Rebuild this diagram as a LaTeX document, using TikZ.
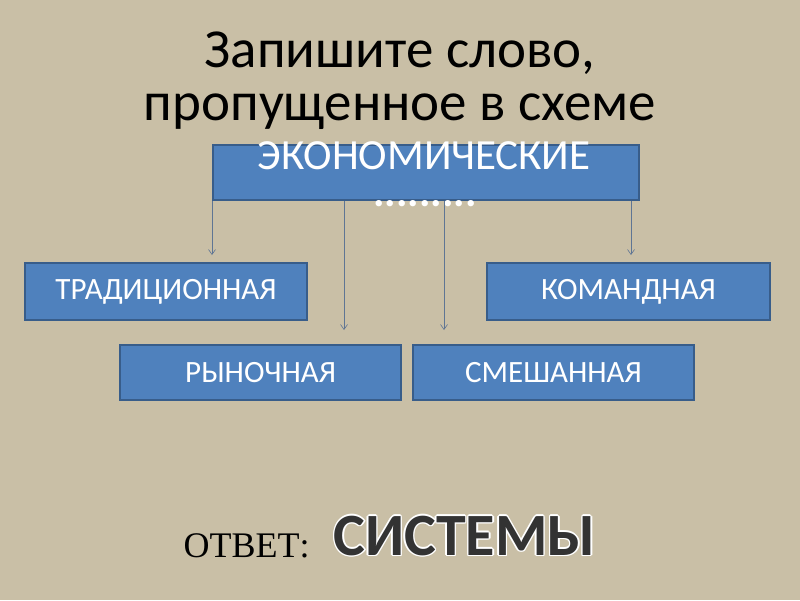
\documentclass[tikz,border=0pt]{standalone}
\usepackage{fontspec}
\setmainfont{Carlito}
\newfontfamily\serifans{Liberation Serif}
\begin{document}
\begin{tikzpicture}[x=1pt,y=-1pt,
  bx/.style={draw=boxedge,fill=boxfill,line width=1.6pt,inner sep=0pt,text=white,font=\fontsize{31}{34}\selectfont},
  arr/.style={draw=arrcol,line width=0.6pt,-{Straight Barb[length=5pt,width=7pt]}}]
\usetikzlibrary{arrows.meta}
\definecolor{bg}{HTML}{C9BFA6}
\definecolor{boxfill}{HTML}{4F81BD}
\definecolor{boxedge}{HTML}{385D8A}
\definecolor{arrcol}{HTML}{5E7594}
\fill[bg] (0,0) rectangle (800,600);
\useasboundingbox (0,0) rectangle (800,600);
\node[font=\fontsize{55}{53}\selectfont,align=center] (title) at (400,81) {Запишите слово,\\пропущенное в схеме};
\node[bx,minimum width=426pt,minimum height=55pt] (top) at (426,172.5) {};
\node[text=white,font=\fontsize{43}{46}\selectfont] (topt) at (424,156) {ЭКОНОМИЧЕСКИЕ};
\node[text=white,font=\fontsize{43}{46}\selectfont\bfseries,inner sep=0pt] (dots) at (425,204) {.........};
\node[bx,minimum width=282pt,minimum height=57pt] (trad) at (166,291.5) {ТРАДИЦИОННАЯ};
\node[bx,minimum width=283pt,minimum height=57pt] (kom) at (628.5,291.5) {КОМАНДНАЯ};
\node[bx,minimum width=281pt,minimum height=55pt] (ryn) at (260.5,372.5) {РЫНОЧНАЯ};
\node[bx,minimum width=281pt,minimum height=55pt] (sme) at (553.5,372.5) {СМЕШАННАЯ};
\coordinate (a1) at (212,255);
\coordinate (a2) at (344,330);
\coordinate (a3) at (444,330);
\coordinate (a4) at (631,255);
\draw[arr] (top.south -| a1) -- (a1);
\draw[arr] (top.south -| a2) -- (a2);
\draw[arr] (top.south -| a3) -- (a3);
\draw[arr] (top.south -| a4) -- (a4);
\node[font=\serifans\fontsize{36}{40}\selectfont,anchor=west] (otv) at (180,546) {ОТВЕТ:};
\foreach \dx/\dy in {-1.5/0,1.5/0,0/-1.5,0/1.5,-1.1/-1.1,1.1/1.1,-1.1/1.1,1.1/-1.1}
  \node[font=\fontsize{60}{64}\selectfont\bfseries,text=white,anchor=west] at (330+\dx,536+\dy) {СИСТЕМЫ};
\node[font=\fontsize{60}{64}\selectfont\bfseries,text=black!80,anchor=west] (ans) at (330,536) {СИСТЕМЫ};
\end{tikzpicture}
\end{document}
